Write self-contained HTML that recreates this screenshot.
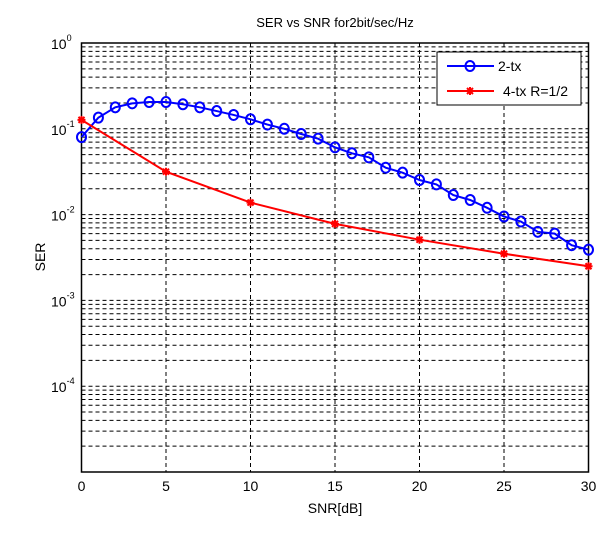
<!DOCTYPE html>
<html><head><meta charset="utf-8"><style>
body{margin:0;background:#fff;width:607px;height:531px;overflow:hidden}
svg text{font-family:"Liberation Sans",Arial,sans-serif;fill:#000}
</style></head><body>
<svg id="chart" width="607" height="531" xmlns="http://www.w3.org/2000/svg">
<rect width="607" height="531" fill="#fff"/>
<g id="grid"></g>
<g id="axes"></g>
<g id="series"></g>
<text x="335" y="27" font-size="13" text-anchor="middle">SER vs SNR for2bit/sec/Hz</text>
<text x="335" y="513" font-size="14" text-anchor="middle">SNR[dB]</text>
<text transform="translate(45,257) rotate(-90)" font-size="14" text-anchor="middle">SER</text>
<g>
<rect x="437" y="52" width="144" height="53" fill="#fff" stroke="#000" stroke-width="1"/>
<g>
<line x1="447" y1="66" x2="494" y2="66" stroke="#0000ff" stroke-width="2"/>
<ellipse cx="470" cy="66" rx="4.5" ry="5" fill="none" stroke="#0000ff" stroke-width="2"/>
<text x="498" y="71" font-size="14">2-tx</text>
</g>
<g>
<line x1="447" y1="91" x2="494" y2="91" stroke="#ff0000" stroke-width="2"/>
<path d="M466 91h8M470 87v8M467 88l6 6M473 88l-6 6" stroke="#ff0000" stroke-width="2"/>
<text x="503" y="96" font-size="14">4-tx R=1/2</text>
</g>
</g>
</svg>
<script>
const snrBlue=[0,1,2,3,4,5,6,7,8,9,10,11,12,13,14,15,16,17,18,19,20,21,22,23,24,25,26,27,28,29,30];
const serBlue=[0.080,0.135,0.178,0.198,0.205,0.205,0.193,0.178,0.161,0.145,0.129,0.112,0.100,0.087,0.0767,0.0608,0.0518,0.0465,0.0352,0.0308,0.0253,0.0225,0.0169,0.0148,0.0120,0.0095,0.0083,0.0063,0.0060,0.0044,0.0039];
const snrRed=[0,5,10,15,20,25,30];
const serRed=[0.127,0.0316,0.0138,0.0078,0.0051,0.0035,0.0025];
const xTicks=[0,5,10,15,20,25,30];
const yDecades=[0,-1,-2,-3,-4];
const L=81.5,R=588.5,T=43,B=472,logMin=-5,logMax=0;
const NS="http://www.w3.org/2000/svg";
function X(v){return L+(v-0)/(30-0)*(R-L);}
function Y(v){return T+(logMax-Math.log10(v))/(logMax-logMin)*(B-T);}
function mk(tag,attrs,parent){const e=document.createElementNS(NS,tag);for(const k in attrs)e.setAttribute(k,attrs[k]);parent.appendChild(e);return e;}
const grid=document.getElementById('grid'),axes=document.getElementById('axes'),series=document.getElementById('series');
for(let d=-5;d<0;d++){for(let m=1;m<=9;m++){const v=m*Math.pow(10,d);const y=Y(v);if(y<=T+0.1||y>=B-0.1)continue;
const ln=mk('line',{x1:L,x2:R,y1:y,y2:y,stroke:'#000','stroke-width':1,'stroke-dasharray':'4,3'},grid);

}}
xTicks.forEach(t=>{const x=X(t);
if(t>0&&t<30){const ln=mk('line',{x1:x,x2:x,y1:T,y2:B,stroke:'#000','stroke-width':1,'stroke-dasharray':'4,3'},grid);

}
const tx=mk('text',{x:x,y:491,'font-size':14,'text-anchor':'middle'},axes);tx.textContent=t;

});
yDecades.forEach(d=>{const y=Y(Math.pow(10,d));
const tx=mk('text',{x:51,y:y+6,'font-size':14},axes);


tx.appendChild(document.createTextNode('10'));
const s=mk('tspan',{dy:-8,'font-size':9},tx);s.textContent=String(d);});
const frame=mk('rect',{x:L,y:T,width:R-L,height:B-T,fill:'none',stroke:'#000','stroke-width':1.5},axes);


const pb=mk('polyline',{points:snrBlue.map((s,i)=>X(s)+','+Y(serBlue[i])).join(' '),fill:'none',stroke:'#0000ff','stroke-width':2},series);


snrBlue.forEach((s,i)=>{const c=mk('ellipse',{cx:X(s),cy:Y(serBlue[i]),rx:4.5,ry:5,fill:'none',stroke:'#0000ff','stroke-width':2},series);

});
const pr=mk('polyline',{points:snrRed.map((s,i)=>X(s)+','+Y(serRed[i])).join(' '),fill:'none',stroke:'#ff0000','stroke-width':2},series);


snrRed.forEach((s,i)=>{const x=X(s),y=Y(serRed[i]);
const p=mk('path',{d:`M${x-4} ${y}h8M${x} ${y-4}v8M${x-3} ${y-3}l6 6M${x+3} ${y-3}l-6 6`,stroke:'#ff0000','stroke-width':2},series);

});
</script>
</body></html>
